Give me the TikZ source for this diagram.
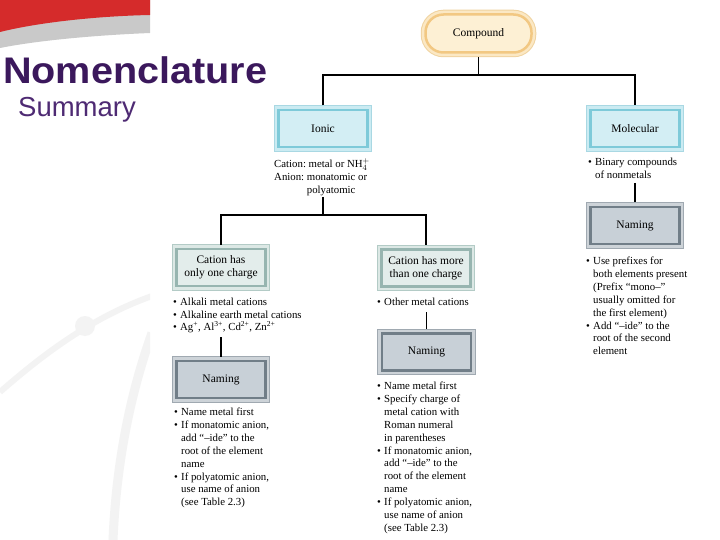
\documentclass[tikz,border=0pt]{standalone}
\usepackage{fontspec}
\usepackage{graphicx}
\setmainfont{Liberation Serif}
\newfontfamily\titlefont{Liberation Sans}
\definecolor{swred}{HTML}{D52B2B}
\definecolor{swgrey}{HTML}{C9C9C9}
\definecolor{wm}{HTML}{F3F3F3}
\definecolor{titlec}{HTML}{3B185C}
\definecolor{subc}{HTML}{4E2A73}
\definecolor{ibedge}{HTML}{A9D8E3}
\definecolor{ibband}{HTML}{CBEBF2}
\definecolor{ibline}{HTML}{7ECAD9}
\definecolor{ibfill}{HTML}{D3EEF4}
\definecolor{cbedge}{HTML}{B3CBC6}
\definecolor{cbband}{HTML}{DCE8E5}
\definecolor{cbline}{HTML}{97B5B0}
\definecolor{cbfill}{HTML}{E3EDEB}
\definecolor{nbedge}{HTML}{A0A9B1}
\definecolor{nbband}{HTML}{CDD3D8}
\definecolor{nbline}{HTML}{717E88}
\definecolor{nbfill}{HTML}{C8D0D7}
\definecolor{pbedge}{HTML}{F0D3A0}
\definecolor{pbband}{HTML}{FBE8C4}
\definecolor{pbline}{HTML}{F2C883}
\definecolor{pbfill}{HTML}{FDF0D4}
\newcommand\bu{\makebox[7pt][l]{\textbullet}}
\newcommand\ind{\hspace*{7pt}}
\frenchspacing
\tikzset{
  boxbase/.style={minimum width=89pt, minimum height=37pt, inner sep=2pt, outer sep=4.5pt,
    align=center, font=\fontsize{11.5}{13}\selectfont, line width=2.5pt},
  ionicbox/.style={boxbase, fill=ibfill, draw=ibline,
    preaction={draw=ibedge, line width=9.5pt}, preaction={draw=ibband, line width=7.5pt}},
  cationbox/.style={boxbase, fill=cbfill, draw=cbline,
    preaction={draw=cbedge, line width=9.5pt}, preaction={draw=cbband, line width=7.5pt}},
  namingbox/.style={boxbase, fill=nbfill, draw=nbline,
    preaction={draw=nbedge, line width=9.5pt}, preaction={draw=nbband, line width=7.5pt}},
  pillbox/.style={boxbase, minimum width=106pt, minimum height=38pt, rounded corners=18pt,
    fill=pbfill, draw=pbline,
    preaction={draw=pbedge, line width=9.5pt}, preaction={draw=pbband, line width=7.5pt}},
  blocktxt/.style={anchor=north west, inner sep=0pt, align=left, font=\fontsize{10.8}{12.85}\selectfont},
  conn/.style={draw=black, line width=1.6pt},
}
\begin{document}
\begin{tikzpicture}[x=1pt,y=-1pt]
\useasboundingbox (0,0) rectangle (720,540);
\fill[white] (0,0) rectangle (720,540);
% watermark
\begin{scope}
\clip (0,0) rectangle (150,540);
\draw[wm, line width=6pt] (0,392) .. controls (40,357) and (90,318) .. (152,296);
\fill[wm] (85,326) circle (10);
\draw[wm, line width=9pt] (152,333) .. controls (128,400) and (116,470) .. (113,540);
\end{scope}
% swoosh
\fill[swgrey] (0,0) -- (150,0) -- (150,33) .. controls (100,35) and (40,40) .. (0,48) -- cycle;
\fill[swred] (0,0) -- (150,0) -- (150,15) .. controls (100,16) and (40,22) .. (0,32) -- cycle;
% titles
\node[anchor=base west, inner sep=0pt, text=titlec] (title) at (3,84)
  {\scalebox{1.07}[1]{\titlefont\bfseries\fontsize{37}{40}\selectfont Nomenclature}};
\node[anchor=base west, inner sep=0pt, text=subc] (subtitle) at (18,117)
  {\titlefont\fontsize{27.5}{30}\selectfont Summary};
% boxes
\node[pillbox] (compound) at (478.5,33.5) {Compound};
\node[ionicbox] (ionic) at (323,128.5) {Ionic};
\node[ionicbox] (molecular) at (635,128.5) {Molecular};
\node[cationbox] (one) at (221,267.5) {Cation has\\only one charge};
\node[cationbox] (more) at (426,268) {Cation has more\\than one charge};
\node[namingbox] (naming1) at (221,379.5) {Naming};
\node[namingbox] (naming2) at (426.5,352) {Naming};
\node[namingbox] (naming3) at (635,225.5) {Naming};
% text blocks
\node[blocktxt] (ionictxt) at (274,158) {Cation: metal or NH$_4^+$\\
Anion: monatomic or\\
\phantom{Anion: }polyatomic};
\node[blocktxt] (moltxt) at (588,158) {\bu Binary compounds\\ \ind of nonmetals};
\node[blocktxt] (onetxt) at (173,297.5) {\bu Alkali metal cations\\
\bu Alkaline earth metal cations\\
\bu Ag\textsuperscript{+}, Al\textsuperscript{3+}, Cd\textsuperscript{2+}, Zn\textsuperscript{2+}};
\node[blocktxt] (moretxt) at (377,297.5) {\bu Other metal cations};
\node[blocktxt] (nam1txt) at (174,408) {\bu Name metal first\\
\bu If monatomic anion,\\
\ind add “–ide” to the\\
\ind root of the element\\
\ind name\\
\bu If polyatomic anion,\\
\ind use name of anion\\
\ind (see Table 2.3)};
\node[blocktxt] (nam2txt) at (377,382) {\bu Name metal first\\
\bu Specify charge of\\
\ind metal cation with\\
\ind Roman numeral\\
\ind in parentheses\\
\bu If monatomic anion,\\
\ind add “–ide” to the\\
\ind root of the element\\
\ind name\\
\bu If polyatomic anion,\\
\ind use name of anion\\
\ind (see Table 2.3)};
\node[blocktxt] (nam3txt) at (586,257) {\bu Use prefixes for\\
\ind both elements present\\
\ind (Prefix “mono–”\\
\ind usually omitted for\\
\ind the first element)\\
\bu Add “–ide” to the\\
\ind root of the second\\
\ind element};
% junctions
\coordinate (j1) at (478.5,75);
\coordinate (j2) at (323,215);
\coordinate (it1) at (323,197);
\coordinate (ot1) at (221,337);
\coordinate (mt1) at (426.5,312);
\coordinate (ml1) at (635,183);
% connectors
\draw[conn] (compound.south) -- (j1);
\draw[conn] (ionic.north) |- (j1) -| (molecular.north);
\draw[conn] (it1) -- (j2);
\draw[conn] (one.north) |- (j2) -| (more.north);
\draw[conn] (ot1) -- (naming1.north);
\draw[conn] (mt1) -- (naming2.north);
\draw[conn] (ml1) -- (naming3.north);
\end{tikzpicture}
\end{document}
